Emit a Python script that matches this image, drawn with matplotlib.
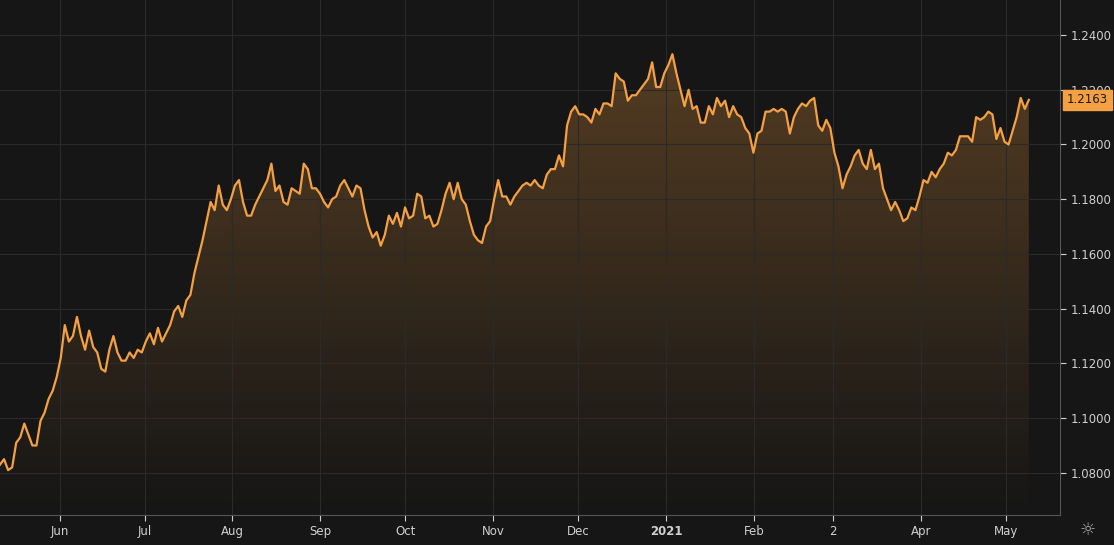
import matplotlib
matplotlib.use("Agg")
import matplotlib.pyplot as plt
import numpy as np
import pandas as pd
from matplotlib.patches import Polygon

prices = [1.083,1.085,1.081,1.082,1.091,1.093,1.098,1.094,1.090,1.090,1.099,1.102,1.107,1.110,1.115,1.122,1.134,1.128,1.130,1.137,
1.130,1.125,1.132,1.126,1.124,1.118,1.117,1.125,1.130,1.124,1.121,1.121,1.124,1.122,1.125,1.124,1.128,1.131,1.127,1.133,
1.128,1.131,1.134,1.139,1.141,1.137,1.143,1.145,1.153,1.159,1.165,1.172,1.179,1.176,1.185,1.178,1.176,1.180,1.185,1.187,
1.179,1.174,1.174,1.178,1.181,1.184,1.187,1.193,1.183,1.185,1.179,1.178,1.184,1.183,1.182,1.193,1.191,1.184,1.184,1.182,
1.179,1.177,1.180,1.181,1.185,1.187,1.184,1.181,1.185,1.184,1.176,1.170,1.166,1.168,1.163,1.167,1.174,1.171,1.175,1.170,
1.177,1.173,1.174,1.182,1.181,1.173,1.174,1.170,1.171,1.176,1.182,1.186,1.180,1.186,1.180,1.178,1.172,1.167,1.165,1.164,
1.170,1.172,1.180,1.187,1.181,1.181,1.178,1.181,1.183,1.185,1.186,1.185,1.187,1.185,1.184,1.189,1.191,1.191,1.196,1.192,
1.207,1.212,1.214,1.211,1.211,1.210,1.208,1.213,1.211,1.215,1.215,1.214,1.226,1.224,1.223,1.216,1.218,1.218,1.220,1.222,
1.224,1.230,1.221,1.221,1.226,1.229,1.233,1.226,1.220,1.214,1.220,1.213,1.214,1.208,1.208,1.214,1.211,1.217,1.214,1.216,
1.210,1.214,1.211,1.210,1.206,1.204,1.197,1.204,1.205,1.212,1.212,1.213,1.212,1.213,1.212,1.204,1.210,1.213,1.215,1.214,
1.216,1.217,1.207,1.205,1.209,1.206,1.197,1.192,1.184,1.189,1.192,1.196,1.198,1.193,1.191,1.198,1.191,1.193,1.184,1.180,
1.176,1.179,1.176,1.172,1.173,1.177,1.176,1.181,1.187,1.186,1.190,1.188,1.191,1.193,1.197,1.196,1.198,1.203,1.203,1.203,
1.201,1.210,1.209,1.210,1.212,1.211,1.202,1.206,1.201,1.200,1.205,1.210,1.217,1.213,1.2163]
start_date = "2020-05-11"
end_date = "2021-05-09"
tick_dates = ["2020-06-01","2020-07-01","2020-08-01","2020-09-01","2020-10-01","2020-11-01","2020-12-01",
              "2021-01-01","2021-02-01","2021-03-01","2021-04-01","2021-05-01"]
tick_labels = ["Jun","Jul","Aug","Sep","Oct","Nov","Dec","2021","Feb","2","Apr","May"]
yticks = [1.08,1.10,1.12,1.14,1.16,1.18,1.20,1.22,1.24]

x0 = matplotlib.dates.date2num(pd.Timestamp(start_date))
x1 = matplotlib.dates.date2num(pd.Timestamp(end_date))
x = np.linspace(x0, x1, len(prices))
y = np.array(prices)

bg = "#161616"
orange = "#f5a042"
fig = plt.figure(figsize=(11.14,5.45), dpi=100, facecolor=bg)
ax = fig.add_axes([0, 30/545, 1060/1114, 515/545], facecolor=bg)
ymin, ymax = 1.0646, 1.2528
xmin = x0
xmax = matplotlib.dates.date2num(pd.Timestamp("2021-05-20"))
ax.set_xlim(xmin, xmax); ax.set_ylim(ymin, ymax)

grad = np.linspace(0,1,256).reshape(-1,1)
from matplotlib.colors import LinearSegmentedColormap
cmap = LinearSegmentedColormap.from_list("g", [(0.96,0.63,0.26,0.0),(0.96,0.63,0.26,0.28)])
im = ax.imshow(grad, cmap=cmap, aspect="auto", origin="lower",
               extent=[xmin, xmax, ymin, y.max()], zorder=1)
poly = Polygon(np.column_stack([np.r_[x[0], x, x[-1]], np.r_[ymin, y, ymin]]), closed=True,
               facecolor="none", edgecolor="none")
ax.add_patch(poly)
im.set_clip_path(poly)
ax.plot(x, y, color=orange, lw=1.6, zorder=3)

ax.set_xticks(matplotlib.dates.date2num(pd.to_datetime(tick_dates)))
ax.set_xticklabels(tick_labels)
ax.set_yticks(yticks)
ax.set_yticklabels([f"{v:.4f}" for v in yticks])
ax.yaxis.tick_right()
ax.grid(True, color="#2a2a2a", lw=0.8)
ax.tick_params(colors="#d0d0d0", labelsize=8.5, length=4)
for s in ["top","left"]:
    ax.spines[s].set_visible(False)
for s in ["right","bottom"]:
    ax.spines[s].set_color("#555555")
for lbl in ax.get_xticklabels():
    if lbl.get_text()=="2021":
        lbl.set_fontweight("bold")
ax.annotate(f"{prices[-1]:.4f}", xy=(1.0, prices[-1]), xycoords=("axes fraction","data"),
            xytext=(5,0), textcoords="offset points", va="center", ha="left", fontsize=8.5,
            color="#1a1a1a", zorder=10, annotation_clip=False,
            bbox=dict(boxstyle="square,pad=0.3", fc=orange, ec=orange))
fig.text(1088/1114, 15/545, "☼", color="#aaaaaa", fontsize=13, ha="center", va="center")
fig.savefig("out.png", dpi=100, facecolor=bg)
